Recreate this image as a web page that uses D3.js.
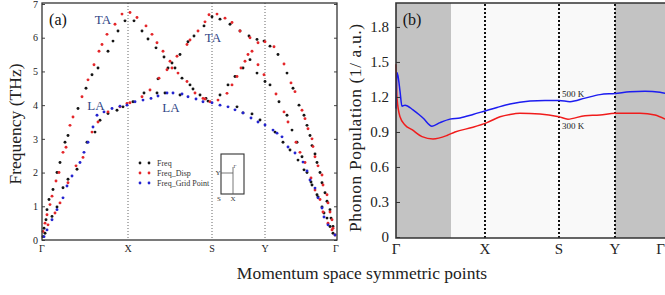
<!DOCTYPE html>
<html><head><meta charset="utf-8">
<script src="https://cdn.jsdelivr.net/npm/d3@7"></script>
<style>
body{margin:0;background:#fff}
svg{display:block}
text{font-family:"Liberation Serif","Times New Roman",serif}
</style>
</head><body>
<svg id="c" width="665" height="295"></svg>
<script>
// ---------- data ----------
const pathLabels = ["Γ","X","S","Y","Γ"];
const pathA = [0, 0.86, 1.70, 2.23, 2.94];   // k-path distance, panel (a)
const pathB = [0, 0.89, 1.63, 2.19, 2.74];   // k-path distance, panel (b)
const freqTicks = [0,1,2,3,4,5,6,7];
const popTicks = [0,0.3,0.6,0.9,1.2,1.5,1.8];
const seriesNames = ["Freq","Freq_Disp","Freq_Grid Point"];

// Freq (black) [k, THz]
const freqPts = [
 [0.01,0.1],[0.02,0.35],[0.04,0.6],[0.05,0.9],[0.07,1.2],[0.11,1.5],[0.15,2.0],[0.18,2.3],[0.23,2.9],[0.26,3.1],
 [0.36,3.9],[0.44,4.5],[0.50,4.9],[0.56,5.1],[0.66,5.6],[0.71,5.9],[0.76,6.2],[0.83,6.5],
 [0.03,0.2],[0.10,0.7],[0.15,0.98],[0.21,1.55],[0.26,1.8],[0.35,2.1],[0.45,2.9],[0.53,3.2],[0.58,3.55],[0.66,3.75],[0.75,3.85],[0.81,3.95],
 [0.92,6.5],[1.00,6.2],[1.06,5.96],[1.14,5.7],[1.22,5.43],[1.30,5.25],[1.33,5.1],[1.40,4.8],[1.48,4.6],[1.51,4.48],[1.58,4.3],[1.64,4.2],
 [0.91,4.1],[1.02,4.36],[1.16,4.78],[1.26,5.1],[1.38,5.5],[1.46,5.88],[1.52,6.05],[1.62,6.35],[1.70,6.62],
 [1.15,4.36],[1.23,4.36],[1.38,4.3],[1.66,4.12],
 [1.78,6.55],[1.88,6.4],[1.98,6.2],[2.07,6.05],[2.15,5.95],[2.22,5.9],
 [1.78,4.3],[1.86,4.6],[1.93,4.85],[2.01,5.1],[2.08,5.35],[2.15,4.95],[2.23,4.7],
 [1.95,3.95],[2.01,3.77],[2.10,3.74],[2.18,3.56],
 [2.28,5.75],[2.36,5.5],[2.45,4.95],[2.51,4.5],[2.57,4.0],[2.62,3.7],[2.65,3.4],[2.68,3.1],[2.70,2.8],[2.73,2.55],[2.75,2.3],[2.78,2.0],[2.80,1.7],[2.83,1.4],[2.85,1.15],[2.88,0.9],[2.89,0.65],[2.91,0.4],
 [2.28,4.6],[2.37,4.1],[2.45,3.7],[2.50,3.26],[2.55,2.9],[2.60,2.47],[2.65,2.0],[2.70,1.63],[2.75,1.34],[2.80,0.98],[2.85,0.65],[2.91,0.2],
 [2.33,3.2],[2.41,2.9],[2.48,2.67],[2.56,2.37],[2.62,2.08],[2.69,1.72],[2.76,1.28],[2.82,0.8],[2.88,0.4]
];
// Freq_Disp (red)
const dispPts = [
 [0.01,0.25],[0.03,0.5],[0.05,0.75],[0.08,1.05],[0.10,1.3],[0.14,1.75],[0.17,2.0],[0.21,2.6],[0.24,2.75],[0.28,3.4],[0.31,3.65],
 [0.40,4.25],[0.46,4.75],[0.52,5.2],[0.57,5.6],[0.60,5.8],[0.65,6.1],[0.73,6.4],[0.80,6.7],
 [0.06,0.45],[0.13,0.8],[0.18,1.1],[0.26,1.7],[0.34,2.2],[0.41,2.45],[0.50,3.2],[0.56,3.5],[0.66,3.8],[0.78,3.95],[0.85,4.05],
 [0.88,6.75],[0.95,6.6],[1.04,6.35],[1.10,6.1],[1.15,5.85],[1.21,5.6],[1.28,5.3],[1.36,4.95],[1.45,4.7],[1.53,4.36],[1.61,4.2],[1.68,4.1],
 [1.00,4.25],[1.08,4.45],[1.17,4.8],[1.25,5.05],[1.30,5.1],[1.35,5.45],[1.45,5.8],[1.48,5.93],[1.56,6.2],[1.63,6.47],[1.67,6.68],
 [0.88,4.07],[1.63,4.18],
 [1.75,6.7],[1.83,6.58],[1.90,6.45],[1.98,6.2],[2.08,6.0],[2.16,5.85],[2.23,5.88],
 [1.76,4.15],[1.85,4.35],[1.90,4.6],[1.95,4.85],[1.99,5.1],[2.03,5.3],[2.06,5.5],[2.10,5.6],[2.16,5.2],[2.22,4.9],
 [2.32,5.73],[2.42,5.22],[2.49,4.66],[2.53,4.4],[2.60,3.85],[2.63,3.6],[2.66,3.3],[2.70,3.0],[2.71,2.77],[2.73,2.47],[2.76,2.2],[2.80,1.93],[2.81,1.63],[2.85,1.34],[2.86,1.1],[2.88,0.83],[2.90,0.6],[2.91,0.35],[2.93,0.15],
 [2.34,4.33],[2.42,3.8],[2.46,3.5],[2.54,2.9],[2.58,2.6],[2.63,2.3],[2.69,1.84],[2.73,1.48],[2.78,1.2],[2.81,0.83],[2.86,0.5],[2.90,0.3]
];
// Freq_Grid Point (blue)
const gridPts = [
 [0.02,0.1],[0.05,0.3],[0.10,0.6],[0.15,0.9],[0.21,1.25],[0.25,1.6],[0.30,1.9],[0.38,2.3],[0.42,2.6],[0.46,2.9],[0.51,3.35],[0.55,3.7],[0.62,3.8],[0.70,3.9],[0.78,3.97],[0.85,4.0],
 [0.93,4.1],[1.01,4.15],[1.09,4.2],[1.16,4.27],[1.25,4.36],[1.31,4.36],[1.40,4.33],[1.46,4.25],[1.54,4.18],[1.61,4.1],[1.70,4.07],
 [1.78,4.0],[1.86,3.95],[1.93,3.86],[2.01,3.77],[2.09,3.62],[2.16,3.5],[2.23,3.41],
 [2.31,3.26],[2.35,3.17],[2.40,3.06],[2.46,2.76],[2.53,2.58],[2.61,2.31],[2.65,2.05],[2.68,1.78],[2.73,1.54],[2.76,1.25],[2.80,0.95],[2.82,0.68],[2.86,0.45],[2.93,0.15]
];
// Phonon population (b)
const pop300 = [
 [0.00,1.48],[0.01,1.19],[0.04,1.03],[0.09,0.96],[0.16,0.92],[0.26,0.86],[0.37,0.84],[0.51,0.87],[0.59,0.9],[0.77,0.94],
 [0.91,0.98],[1.04,1.03],[1.14,1.05],[1.24,1.06],[1.44,1.055],[1.63,1.03],[1.72,1.01],[1.89,1.04],[2.04,1.045],[2.19,1.06],
 [2.44,1.06],[2.59,1.045],[2.69,1.01]
];
const pop500 = [
 [0.00,1.1],[0.01,1.41],[0.02,1.38],[0.04,1.25],[0.06,1.12],[0.09,1.13],[0.17,1.09],[0.27,1.02],[0.36,0.95],[0.44,0.98],
 [0.54,1.01],[0.64,1.02],[0.77,1.05],[0.89,1.08],[1.01,1.11],[1.14,1.14],[1.34,1.165],[1.49,1.17],[1.63,1.17],[1.74,1.16],
 [1.89,1.19],[2.04,1.22],[2.19,1.23],[2.34,1.245],[2.49,1.25],[2.64,1.24],[2.74,1.22]
];
const shadeB = [[0,0.55],[2.19,2.74]];

// ---------- drawing ----------
const svg = d3.select("#c");
const colors = ["#151515","#e4262a","#2424d0"];
const font = "'Liberation Serif','Times New Roman',serif";

// Panel (a)
const xA = d3.scaleLinear().domain([0,2.94]).range([42,336]);
const yA = d3.scaleLinear().domain([0,7]).range([240,4]);
const gA = svg.append("g");

gA.selectAll("line.vd").data(pathA.slice(1,4)).join("line")
  .attr("x1",d=>xA(d)).attr("x2",d=>xA(d)).attr("y1",3).attr("y2",240)
  .attr("stroke","#666").attr("stroke-width",1).attr("stroke-dasharray","1,2");

[freqPts,dispPts,gridPts].forEach((pts,i)=>{
  gA.append("g").selectAll("circle").data(pts).join("circle")
    .attr("cx",d=>xA(d[0])).attr("cy",d=>yA(d[1])).attr("r",1.45).attr("fill",colors[i]);
});

const axL = gA.append("g").attr("transform","translate(42,0)")
  .call(d3.axisLeft(yA).tickValues(freqTicks).tickSize(-3).tickPadding(4).tickFormat(d3.format("d")));
axL.select(".domain").remove();
axL.selectAll("text").attr("font-size",10).attr("font-family",font).attr("fill","#222");
axL.selectAll("line").attr("stroke","#444");
const axR = gA.append("g").attr("transform","translate(337,0)")
  .call(d3.axisRight(yA).tickValues(freqTicks).tickSize(-3).tickFormat(""));
axR.select(".domain").remove();
axR.selectAll("line").attr("stroke","#444");

gA.append("rect").attr("x",42).attr("y",3).attr("width",295).attr("height",237)
  .attr("fill","none").attr("stroke","#333").attr("stroke-width",1.3);

gA.selectAll("text.xl").data(pathA).join("text")
  .attr("x",d=>xA(d)).attr("y",252).attr("text-anchor","middle")
  .attr("font-size",10).attr("fill","#222").text((d,i)=>pathLabels[i]);

// branch labels
const branchLbl = [["TA",0.61,19],["TA",1.71,37],["LA",0.54,105],["LA",1.29,107]];
gA.selectAll("text.br").data(branchLbl).join("text")
  .attr("x",d=>xA(d[1])).attr("y",d=>d[2]+5).attr("text-anchor","middle")
  .attr("font-size",13).attr("fill","#2f4686").text(d=>d[0]);

gA.append("text").attr("x",58).attr("y",25).attr("text-anchor","middle")
  .attr("font-size",16).attr("fill","#111").text("(a)");

// legend
const lg = gA.append("g");
seriesNames.forEach((n,i)=>{
  const yy = 163 + i*10;
  [140,149].forEach(xx=>lg.append("circle").attr("cx",xx).attr("cy",yy).attr("r",1.4).attr("fill",colors[i]));
  lg.append("text").attr("x",157).attr("y",yy+3).attr("font-size",8).attr("fill","#333").text(n);
});

// inset Brillouin zone
const ins = gA.append("g");
ins.append("rect").attr("x",221).attr("y",154).attr("width",23).attr("height",40)
  .attr("fill","none").attr("stroke","#333").attr("stroke-width",1.1);
ins.append("line").attr("x1",221).attr("x2",233).attr("y1",173).attr("y2",173).attr("stroke","#555").attr("stroke-width",0.8);
ins.append("line").attr("x1",233).attr("x2",233).attr("y1",167).attr("y2",194).attr("stroke","#555").attr("stroke-width",0.8);
[["Y",218,175],["S",219,201],["X",233,201],["Γ",235,168]].forEach(t=>{
  ins.append("text").attr("x",t[1]).attr("y",t[2]).attr("text-anchor","middle")
    .attr("font-size",t[0]==="Γ"?5:7).attr("fill","#333").text(t[0]);
});

// axis title (a)
svg.append("text").attr("transform","translate(21,124) rotate(-90)").attr("text-anchor","middle")
  .attr("font-size",17.5).attr("fill","#222").text("Frequency (THz)");

// Panel (b)
const xB = d3.scaleLinear().domain([0,2.74]).range([396,670]);
const yB = d3.scaleLinear().domain([0,2]).range([237,3.6]);
const gB = svg.append("g");
gB.append("rect").attr("x",396).attr("y",3).attr("width",274).attr("height",235).attr("fill","#f9f9f9");
gB.selectAll("rect.sh").data(shadeB).join("rect")
  .attr("x",d=>xB(d[0])).attr("width",d=>xB(d[1])-xB(d[0])).attr("y",3).attr("height",235).attr("fill","#c3c3c3");

gB.selectAll("line.vd").data(pathB.slice(1,4)).join("line")
  .attr("x1",d=>xB(d)).attr("x2",d=>xB(d)).attr("y1",4).attr("y2",238)
  .attr("stroke","#111").attr("stroke-width",2).attr("stroke-dasharray","2,2");

const line = d3.line().x(d=>xB(d[0])).y(d=>yB(d[1])).curve(d3.curveMonotoneX);
gB.append("path").datum(pop300).attr("d",line).attr("fill","none").attr("stroke","#f01c1c").attr("stroke-width",1.5);
gB.append("path").datum(pop500).attr("d",line).attr("fill","none").attr("stroke","#1c1cf0").attr("stroke-width",1.5);

gB.append("text").attr("x",xB(1.66)).attr("y",97).attr("font-size",9).attr("fill","#222").text("500 K");
gB.append("text").attr("x",xB(1.66)).attr("y",129).attr("font-size",9).attr("fill","#222").text("300 K");

const axB = gB.append("g").attr("transform","translate(396,0)")
  .call(d3.axisLeft(yB).tickValues(popTicks).tickSize(-4).tickPadding(7).tickFormat(d=>d===0?"0":d3.format(".1f")(d)));
axB.select(".domain").remove();
axB.selectAll("text").attr("font-size",15).attr("font-family",font).attr("fill","#222");
axB.selectAll("line").attr("stroke","#333");

gB.append("path").attr("d","M670,3H396V238H670").attr("fill","none").attr("stroke","#333").attr("stroke-width",1.6);

gB.selectAll("text.xl").data(pathB).join("text")
  .attr("x",(d,i)=>i===4?665:xB(d)).attr("y",254).attr("text-anchor",(d,i)=>i===4?"end":"middle")
  .attr("font-size",15).attr("fill","#222").text((d,i)=>pathLabels[i]);

gB.append("text").attr("x",412).attr("y",25).attr("text-anchor","middle")
  .attr("font-size",16).attr("fill","#111").text("(b)");

svg.append("text").attr("transform","translate(361,128) rotate(-90)").attr("text-anchor","middle")
  .attr("font-size",17.5).attr("textLength",208).attr("lengthAdjust","spacing")
  .attr("fill","#222").text("Phonon Population (1/ a.u.)");

svg.append("text").attr("x",362).attr("y",279).attr("text-anchor","middle")
  .attr("font-size",17.5).attr("fill","#222").text("Momentum space symmetric points");
</script>
</body></html>
